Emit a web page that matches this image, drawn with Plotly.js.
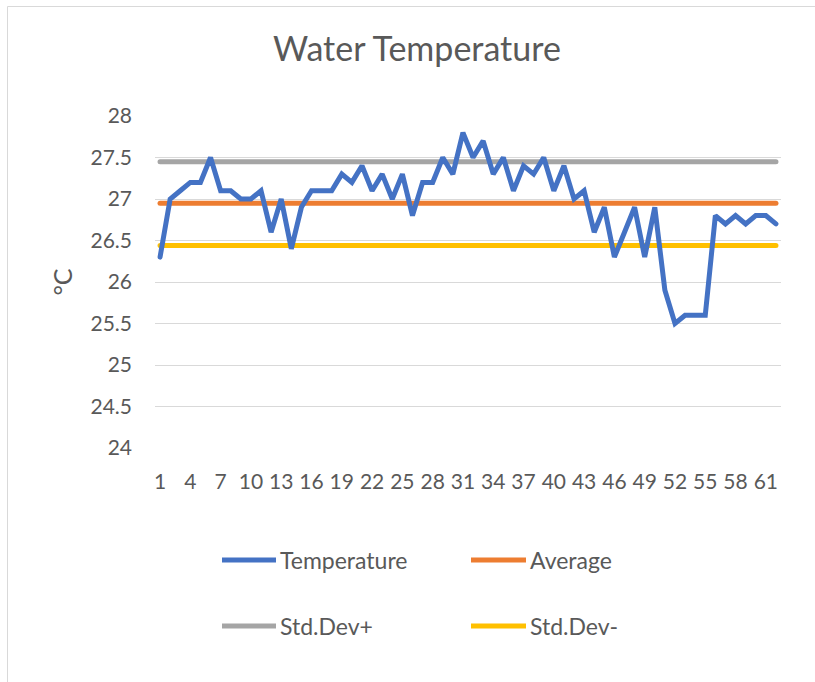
<!DOCTYPE html>
<html>
<head>
<meta charset="utf-8">
<script src="https://cdn.plot.ly/plotly-3.0.1.min.js"></script>
<style>
  html, body { margin: 0; padding: 0; background: #ffffff; }
  #chart { width: 815px; height: 682px; }
  .scatterlayer .js-line { stroke-linecap: round; }
</style>
</head>
<body>
<div id="chart"></div>
<script>
// ---- data ----
const days = Array.from({length: 62}, (_, i) => i + 1);
const temperature = [
  26.3, 27.0, 27.1, 27.2, 27.2, 27.5, 27.1, 27.1, 27.0, 27.0,
  27.1, 26.6, 27.0, 26.4, 26.9, 27.1, 27.1, 27.1, 27.3, 27.2,
  27.4, 27.1, 27.3, 27.0, 27.3, 26.8, 27.2, 27.2, 27.5, 27.3,
  27.8, 27.5, 27.7, 27.3, 27.5, 27.1, 27.4, 27.3, 27.5, 27.1,
  27.4, 27.0, 27.1, 26.6, 26.9, 26.3, 26.6, 26.9, 26.3, 26.9,
  25.9, 25.5, 25.6, 25.6, 25.6, 26.8, 26.7, 26.8, 26.7, 26.8,
  26.8, 26.7
];
const averageValue = 26.95;
const stdDevPlusValue = 27.45;
const stdDevMinusValue = 26.44;
const xTickVals = [1, 4, 7, 10, 13, 16, 19, 22, 25, 28, 31, 34, 37, 40, 43, 46, 49, 52, 55, 58, 61];
const yTickVals = [24, 24.5, 25, 25.5, 26, 26.5, 27, 27.5, 28];
const seriesNames = ['Temperature', 'Average', 'Std.Dev+', 'Std.Dev-'];
const seriesColors = ['#4472C4', '#ED7D31', '#A5A5A5', '#FFC000'];

const ends = [days[0], days[days.length - 1]];

// ---- layout geometry ----
const W = 815, H = 682;
const L = 155, R = 34, T = 116, B = 234;
const pw = W - L - R, ph = H - T - B;
const px = x => (x - L) / pw;
const py = y => (H - B - y) / ph;

const FONT = 'Lato, "Liberation Sans", Arial, sans-serif';
const TXT = '#595959';

const traces = [
  {x: ends, y: [stdDevPlusValue, stdDevPlusValue], name: seriesNames[2]},
  {x: ends, y: [stdDevMinusValue, stdDevMinusValue], name: seriesNames[3]},
  {x: ends, y: [averageValue, averageValue], name: seriesNames[1]},
  {x: days, y: temperature, name: seriesNames[0]}
].map(t => ({
  ...t,
  type: 'scatter',
  mode: 'lines',
  hoverinfo: 'skip',
  line: {color: seriesColors[seriesNames.indexOf(t.name)], width: 5},
  showlegend: false
}));

// manual legend (two columns, two rows)
const legendItems = [
  {name: seriesNames[0], color: seriesColors[0], x0: 222, x1: 276, tx: 278, y: 560},
  {name: seriesNames[1], color: seriesColors[1], x0: 471, x1: 526, tx: 528, y: 560},
  {name: seriesNames[2], color: seriesColors[2], x0: 222, x1: 276, tx: 278, y: 626},
  {name: seriesNames[3], color: seriesColors[3], x0: 471, x1: 526, tx: 528, y: 626}
];

const shapes = [
  {type: 'rect', xref: 'paper', yref: 'paper', x0: px(7.5), x1: px(900), y0: py(6.5), y1: py(900),
   line: {color: '#d9d9d9', width: 1}, fillcolor: 'rgba(0,0,0,0)', layer: 'below'}
].concat(legendItems.map(it => ({
  type: 'line', xref: 'paper', yref: 'paper', x0: px(it.x0), x1: px(it.x1), y0: py(it.y), y1: py(it.y),
  line: {color: it.color, width: 5}
})));

const annotations = legendItems.map(it => ({
  xref: 'paper', yref: 'paper', x: px(it.tx), y: py(it.y), xanchor: 'left', yanchor: 'middle',
  text: it.name, showarrow: false, font: {family: FONT, size: 23, color: TXT}
}));

const layout = {
  width: W, height: H,
  margin: {l: L, r: R, t: T, b: B, pad: 0},
  paper_bgcolor: '#ffffff',
  plot_bgcolor: '#ffffff',
  title: {
    text: 'Water Temperature',
    font: {family: FONT, size: 34, color: TXT},
    xref: 'container', yref: 'container',
    x: 417 / W, xanchor: 'center',
    y: 1 - 49 / H, yanchor: 'middle'
  },
  xaxis: {
    range: [0.5, 62.5],
    tickmode: 'array', tickvals: xTickVals, ticktext: xTickVals.map(String),
    showgrid: false, zeroline: false, showline: false, ticks: '',
    ticklabelstandoff: 19,
    tickfont: {family: FONT, size: 21, color: TXT}
  },
  yaxis: {
    range: [24, 28],
    tickmode: 'array', tickvals: yTickVals, ticktext: yTickVals.map(String),
    showgrid: true, gridcolor: '#d9d9d9', gridwidth: 1,
    zeroline: false, showline: false, ticks: '',
    ticklabelstandoff: 22,
    tickfont: {family: FONT, size: 21, color: TXT},
    title: {text: '°C', font: {family: FONT, size: 25, color: TXT}, standoff: 10}
  },
  shapes: shapes,
  annotations: annotations,
  showlegend: false
};

Plotly.newPlot('chart', traces, layout, {displayModeBar: false, staticPlot: true});
</script>
</body>
</html>
